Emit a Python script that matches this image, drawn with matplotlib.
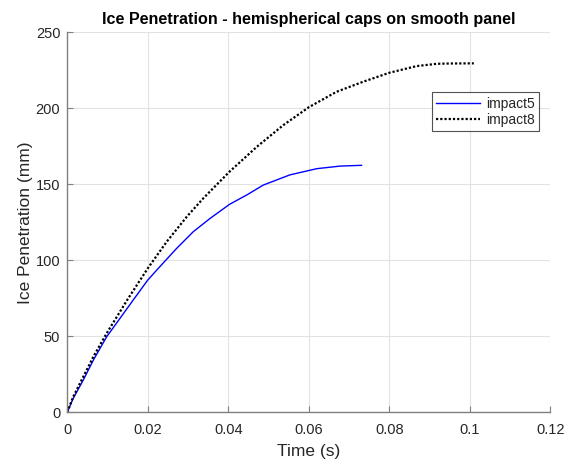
import matplotlib
matplotlib.use("Agg")
import matplotlib.pyplot as plt

# values
t_impact5 = [0, 0.0015, 0.004, 0.0065, 0.0098, 0.0131, 0.0164, 0.02, 0.023,
             0.0272, 0.0313, 0.0355, 0.0403, 0.0446, 0.0487, 0.0553, 0.062,
             0.0678, 0.0731]
pen_impact5 = [0, 9.2, 21.3, 34.4, 49.7, 61.8, 73.9, 87.0, 95.8,
               107.9, 118.8, 127.6, 136.8, 143.0, 149.5, 156.2, 160.3,
               162.0, 162.5]

t_impact8 = [0, 0.0015, 0.0065, 0.0098, 0.0148, 0.02, 0.0247, 0.0297, 0.0338,
             0.0403, 0.0471, 0.0537, 0.06, 0.0669, 0.0735, 0.0777, 0.08,
             0.0868, 0.0918, 0.095, 0.101]
pen_impact8 = [0, 10.3, 36.6, 52.0, 73.5, 94.7, 112.2, 128.7, 140.8,
               158.3, 174.7, 189.0, 200.7, 210.9, 217.5, 221.3, 223.4,
               227.8, 229.3, 229.5, 229.6]

x_ticks = [0, 0.02, 0.04, 0.06, 0.08, 0.1, 0.12]
x_ticklabels = ["0", "0.02", "0.04", "0.06", "0.08", "0.1", "0.12"]
y_ticks = [0, 50, 100, 150, 200, 250]

plt.rcParams["font.family"] = ["Liberation Sans", "DejaVu Sans"]
text_col = "#262626"
axis_col = "#808080"

fig = plt.figure(figsize=(5.65, 4.62), dpi=100)
ax = fig.add_axes([0.119, 0.1076, 0.855, 0.8224])

ax.plot(t_impact5, pen_impact5, color="#0000ff", lw=1.0, label="impact5")
ax.plot(t_impact8, pen_impact8, color="black", lw=1.6, ls=(0, (1, 0.9)),
        label="impact8")

ax.set_xlim(0, 0.12)
ax.set_ylim(0, 250)
ax.set_xticks(x_ticks)
ax.set_xticklabels(x_ticklabels)
ax.set_yticks(y_ticks)
ax.grid(True, color="#e2e2e2", lw=0.8)
ax.set_axisbelow(True)

for side in ["top", "right"]:
    ax.spines[side].set_visible(False)
for side in ["left", "bottom"]:
    ax.spines[side].set_color(axis_col)
    ax.spines[side].set_linewidth(1.0)
ax.tick_params(direction="in", length=4, color=axis_col, labelcolor=text_col,
               labelsize=10.5)
ax.tick_params(axis="x", pad=8)
ax.tick_params(axis="y", pad=5)

ax.set_xlabel("Time (s)", fontsize=12.5, color=text_col, labelpad=5)
ax.set_ylabel("Ice Penetration (mm)", fontsize=12.5, color=text_col,
              labelpad=2)
ax.set_title("Ice Penetration - hemispherical caps on smooth panel",
             fontsize=11.65, fontweight="bold", color="black", pad=6)

leg = ax.legend(loc="upper right", bbox_to_anchor=(0.976, 0.842), fontsize=10,
                frameon=True, fancybox=False, borderaxespad=0,
                handlelength=3.2, handletextpad=0.4, borderpad=0.3,
                labelspacing=0.2)
leg.get_frame().set_edgecolor("#262626")
leg.get_frame().set_linewidth(0.8)
for txt in leg.get_texts():
    txt.set_color(text_col)

fig.savefig("out.png", dpi=100)
